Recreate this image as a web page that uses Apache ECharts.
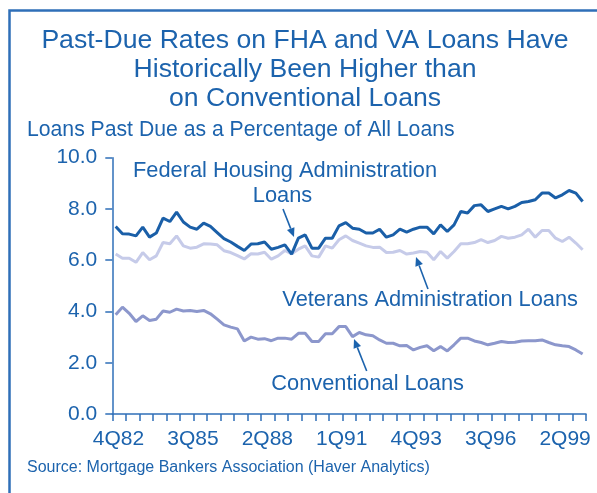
<!DOCTYPE html>
<html>
<head>
<meta charset="utf-8">
<script src="https://cdn.jsdelivr.net/npm/echarts@6/dist/echarts.min.js"></script>
<style>
  html, body { margin: 0; padding: 0; background: #fff; }
  #chart { width: 597px; height: 493px; }
</style>
</head>
<body>
<div id="chart"></div>
<script>
/*  数据：季度 3Q82 - 4Q99  */
var quarters = [];
for (var y = 82; y <= 99; y++) {
  for (var q = 1; q <= 4; q++) {
    if (y === 82 && q < 3) continue;
    quarters.push(q + 'Q' + y);
  }
}
var labelQuarters = ['4Q82', '3Q85', '2Q88', '1Q91', '4Q93', '3Q96', '2Q99'];

var fhaRates = [7.32, 7.03, 7.02, 6.95, 7.29, 6.9, 7.06, 7.64, 7.51, 7.88,
  7.49, 7.29, 7.21, 7.45, 7.32, 7.08, 6.84, 6.71, 6.54, 6.38,
  6.63, 6.64, 6.71, 6.43, 6.5, 6.6, 6.24, 6.86, 6.99, 6.47,
  6.47, 6.86, 6.86, 7.34, 7.47, 7.25, 7.21, 7.06, 7.06, 7.21,
  6.9, 6.99, 7.21, 7.1, 7.21, 7.29, 7.29, 7.03, 7.38, 7.12,
  7.38, 7.9, 7.84, 8.13, 8.16, 7.9, 8.0, 8.1, 8.0, 8.1,
  8.25, 8.29, 8.36, 8.62, 8.62, 8.43, 8.55, 8.72, 8.62, 8.29];

var vaRates = [6.24, 6.08, 6.08, 5.92, 6.3, 6.02, 6.17, 6.69, 6.64, 6.95,
  6.56, 6.47, 6.51, 6.64, 6.63, 6.6, 6.37, 6.3, 6.18, 6.05,
  6.25, 6.24, 6.31, 6.04, 6.17, 6.38, 6.25, 6.43, 6.56, 6.17,
  6.12, 6.56, 6.47, 6.8, 6.95, 6.77, 6.67, 6.56, 6.5, 6.51,
  6.3, 6.31, 6.38, 6.24, 6.28, 6.34, 6.31, 6.02, 6.34, 6.08,
  6.34, 6.64, 6.64, 6.69, 6.8, 6.69, 6.77, 6.93, 6.86, 6.9,
  6.99, 7.21, 6.9, 7.16, 7.16, 6.86, 6.73, 6.9, 6.67, 6.41];

var convRates = [3.87, 4.17, 3.93, 3.61, 3.83, 3.65, 3.7, 4.02, 3.97, 4.09,
  4.02, 4.04, 4.0, 4.04, 3.91, 3.7, 3.48, 3.39, 3.32, 2.85,
  3.0, 2.92, 2.94, 2.86, 2.96, 2.96, 2.92, 3.15, 3.15, 2.83,
  2.83, 3.13, 3.13, 3.41, 3.41, 3.02, 3.18, 3.09, 3.05, 2.89,
  2.76, 2.76, 2.66, 2.67, 2.5, 2.6, 2.66, 2.47, 2.63, 2.46,
  2.7, 2.96, 2.96, 2.85, 2.79, 2.7, 2.76, 2.83, 2.79, 2.8,
  2.85, 2.86, 2.86, 2.89, 2.79, 2.7, 2.66, 2.63, 2.5, 2.34];

var TEXT = '#1c63ad';
var AXIS = '#2f6fb8';
var FONT = '"Liberation Sans", Arial, sans-serif';

// 箭头：线段 + 三角形头
function arrow(x1, y1, x2, y2) {
  var a = Math.atan2(y2 - y1, x2 - x1);
  var len = 9, w = 4;
  var bx = x2 - len * Math.cos(a), by = y2 - len * Math.sin(a);
  return {
    type: 'group',
    children: [{
      type: 'line',
      shape: { x1: x1, y1: y1, x2: bx, y2: by },
      style: { stroke: TEXT, lineWidth: 1.6 }
    }, {
      type: 'polygon',
      shape: { points: [[x2, y2],
        [bx + w * Math.sin(a), by - w * Math.cos(a)],
        [bx - w * Math.sin(a), by + w * Math.cos(a)]] },
      style: { fill: TEXT }
    }]
  };
}

function label(text, x, y, size, align) {
  return {
    type: 'text', x: x, y: y,
    style: { text: text, fill: TEXT, font: size + 'px ' + FONT,
      align: align || 'left', verticalAlign: 'middle', lineHeight: 29 }
  };
}

var chart = echarts.init(document.getElementById('chart'), null, { renderer: 'canvas' });

var option = {
  animation: false,
  backgroundColor: '#fff',
  grid: { left: 112.3, right: 11, top: 157.7, bottom: 79, containLabel: false },
  xAxis: {
    type: 'category',
    data: quarters,
    boundaryGap: true,
    axisLine: { lineStyle: { color: AXIS, width: 1.5 } },
    axisTick: { show: true, interval: 1, length: 7, lineStyle: { color: AXIS, width: 1.5 } },
    axisLabel: {
      interval: function (idx, val) { return labelQuarters.indexOf(val) >= 0; },
      color: TEXT, fontSize: 21, fontFamily: FONT, margin: 15,
      padding: [0, 8, 0, 0]
    },
    splitLine: { show: false }
  },
  yAxis: {
    type: 'value',
    min: 0, max: 10, interval: 2,
    axisLine: { show: true, lineStyle: { color: AXIS, width: 1.5 } },
    axisTick: { show: true, length: 7, lineStyle: { color: AXIS, width: 1.5 } },
    axisLabel: {
      color: TEXT, fontSize: 21, fontFamily: FONT, margin: 15,
      formatter: function (v) { return v.toFixed(1); }
    },
    splitLine: { show: false }
  },
  series: [{
    name: 'Veterans Administration Loans', type: 'line', data: vaRates,
    symbol: 'none', lineStyle: { color: '#c6cbe9', width: 3 }
  }, {
    name: 'Conventional Loans', type: 'line', data: convRates,
    symbol: 'none', lineStyle: { color: '#8c97cc', width: 3 }
  }, {
    name: 'Federal Housing Administration Loans', type: 'line', data: fhaRates,
    symbol: 'none', lineStyle: { color: '#1a5fa8', width: 3 }
  }],
  graphic: [
    {
      type: 'rect',
      shape: { x: 9.5, y: 10.5, width: 620, height: 520 },
      style: { fill: 'none', stroke: AXIS, lineWidth: 2.5 }
    },
    label('Past-Due Rates on FHA and VA Loans Have\nHistorically Been Higher than\non Conventional Loans', 305, 70, 26.6, 'center'),
    label('Loans Past Due as a Percentage of All Loans', 27, 130, 21.2),
    label('Federal Housing Administration', 133, 171, 21.8),
    label('Loans', 282.5, 196, 21.8, 'center'),
    label('Veterans Administration Loans', 578, 300, 21.8, 'right'),
    label('Conventional Loans', 464, 384, 21.8, 'right'),
    label('Source: Mortgage Bankers Association (Haver Analytics)', 27, 468, 16),
    arrow(283, 209, 294, 237),
    arrow(428, 289, 416, 257),
    arrow(366.7, 371, 354, 339)
  ]
};

chart.setOption(option);
</script>
</body>
</html>
